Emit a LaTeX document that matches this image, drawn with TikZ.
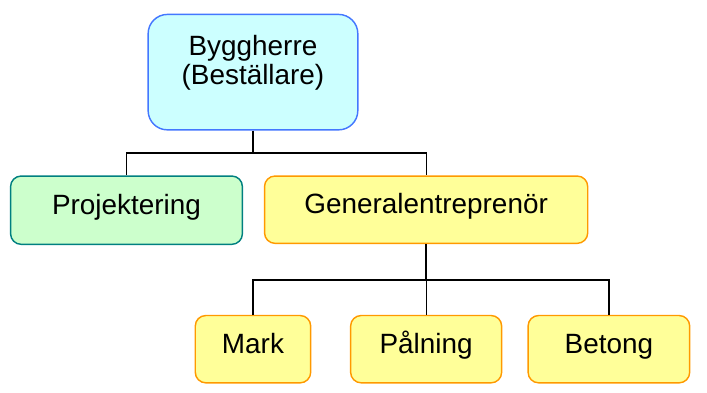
\documentclass[tikz,border=0pt]{standalone}
\usepackage{fontspec}
\setmainfont{Liberation Sans}
\definecolor{cyanfill}{HTML}{CCFFFF}
\definecolor{blueline}{HTML}{4477FF}
\definecolor{greenfill}{HTML}{CCFFCC}
\definecolor{tealline}{HTML}{008080}
\definecolor{yellowfill}{HTML}{FFFF99}
\definecolor{orangeline}{HTML}{FF9900}
\begin{document}
\begin{tikzpicture}[x=1pt,y=-1pt,
  orgbox/.style={draw, line width=1.5pt, rounded corners=11pt, minimum height=70pt,
    inner sep=0pt, font=\fontsize{29}{30}\selectfont, text height=21pt, text depth=13pt},
  topbox/.style={orgbox, draw=blueline, fill=cyanfill, rounded corners=20pt},
  planbox/.style={orgbox, draw=tealline, fill=greenfill},
  workbox/.style={orgbox, draw=orangeline, fill=yellowfill},
  conn/.style={draw=black, line width=1.3pt},
  stem/.style={draw=black, line width=2pt}]
\useasboundingbox (0,0) rectangle (735,407.6);
\clip (0,0) rectangle (735,407.6);

% boxes
\node[topbox, minimum width=218pt, minimum height=120pt] (bygg) at (263,75) {};
\node[font=\fontsize{29}{30}\selectfont, align=center, anchor=north, inner sep=0pt]
  (byggtext) at (263,37) {Byggherre\\(Beställare)};
\node[planbox, minimum width=241pt, minimum height=71pt] (proj) at (131.5,218.5) {Projektering};
\node[workbox, minimum width=336pt] (gen) at (443,218) {Generalentreprenör};
\node[workbox, minimum width=120pt] (mark) at (263,363) {Mark};
\node[workbox, minimum width=157pt] (paln) at (443,363) {Pålning};
\node[workbox, minimum width=168pt] (betong) at (633,363) {Betong};

% connectors
\coordinate (j1) at (263,159);
\coordinate (j2) at (443,291);
\draw[conn] (bygg.south) -- (j1);
\draw[conn] (proj.north) |- (j1) -| (gen.north);
\draw[stem] (gen.south) -- (j2);
\draw[conn] (mark.north) |- (j2) -| (betong.north);
\draw[conn] (paln.north) -- (j2);
\end{tikzpicture}
\end{document}
